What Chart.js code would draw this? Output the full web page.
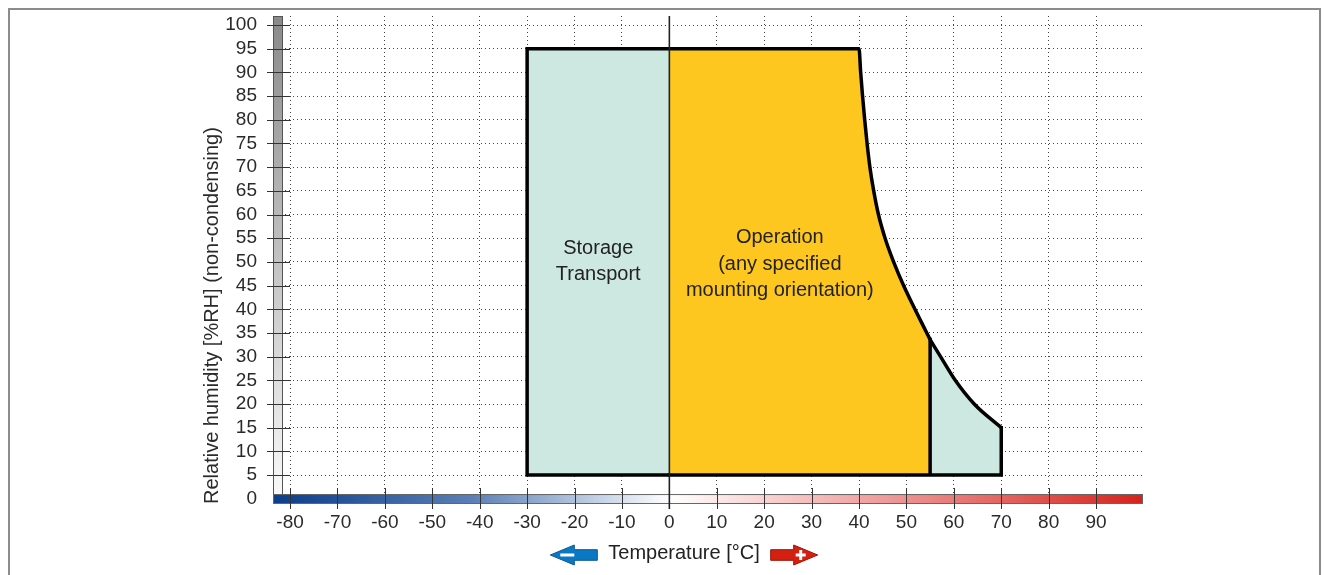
<!DOCTYPE html>
<html>
<head>
<meta charset="utf-8">
<script src="https://cdn.jsdelivr.net/npm/chart.js@4.4.1/dist/chart.umd.min.js"></script>
<style>
    body { margin: 0; background: #fff; }
    .frame { position: absolute; left: 8px; top: 8px; width: 1309px; height: 580px; border: 2px solid #8c8c8c; }
    #humidityChart { position: absolute; left: 0; top: 0; }
</style>
</head>
<body>
<div class="frame"></div>
<canvas id="humidityChart" width="1327" height="575"></canvas>
<script>
// tick labels
const xTicks = [-80, -70, -60, -50, -40, -30, -20, -10, 0, 10, 20, 30, 40, 50, 60, 70, 80, 90];
const yTicks = [0, 5, 10, 15, 20, 25, 30, 35, 40, 45, 50, 55, 60, 65, 70, 75, 80, 85, 90, 95, 100];

// storage / transport (left block)
const storageT  = [0, -30, -30, 0];
const storageRH = [5, 5, 95, 95];

// operation: upper limit (filled down to 5 %RH)
const operationT  = [0, 40, 40.35, 40.75, 41.2, 41.7, 42.3, 43.1, 44.1, 45.5, 47.3, 49.4, 51.8, 54.3, 55];
const operationRH = [95, 95, 90, 85, 80, 75, 70, 65, 60, 55, 50, 45, 40, 35, 33.6];

// storage / transport above 55 °C: upper limit (filled down to 5 %RH)
const extendedT  = [55, 57.2, 60.3, 64.3, 70];
const extendedRH = [33.6, 30, 25, 20, 15];

// remaining outline: bottom edge, right edge, 55 °C divider
const outlineT  = [0, 70, 70, 70, 55, 55];
const outlineRH = [5, 5, 15, null, 5, 33.6];

const toPoints = (xs, ys) => xs.map((x, i) => ({ x: x, y: ys[i] }));

const FONT = '"Liberation Sans", Arial, sans-serif';
const TEAL = '#cde8e0';
const YELLOW = '#fdc71f';

// extra drawing: scale bars, tick marks, zero line, region texts, temperature label
const decorations = {
    id: 'decorations',
    afterDatasetsDraw(chart) {
        const ctx = chart.ctx;
        const area = chart.chartArea;
        const xs = chart.scales.x;
        const ys = chart.scales.y;
        const barTop = ys.getPixelForValue(1);
        ctx.save();

        // gray humidity bar
        let g = ctx.createLinearGradient(0, area.top, 0, barTop);
        g.addColorStop(0, '#8a8a8a');
        g.addColorStop(1, '#f8f8f8');
        ctx.fillStyle = g;
        ctx.fillRect(area.left, area.top, 9, barTop - area.top);
        ctx.strokeStyle = '#555';
        ctx.lineWidth = 1;
        ctx.strokeRect(area.left + 0.5, area.top + 0.5, 9, barTop - area.top);

        // blue-white-red temperature bar
        g = ctx.createLinearGradient(area.left, 0, area.right, 0);
        const zero = (xs.getPixelForValue(0) - area.left) / (area.right - area.left);
        g.addColorStop(0, '#0b3d8b');
        g.addColorStop(zero * 0.5, '#5b7fb6');
        g.addColorStop(zero, '#ffffff');
        g.addColorStop(zero + (1 - zero) * 0.45, '#ef9c9b');
        g.addColorStop(1, '#d6231b');
        ctx.fillStyle = g;
        ctx.fillRect(area.left, barTop, area.right - area.left, area.bottom - barTop);
        ctx.strokeStyle = '#666';
        ctx.strokeRect(area.left + 0.5, barTop + 0.5, area.right - area.left - 1, area.bottom - barTop - 1);

        // tick marks
        ctx.strokeStyle = '#333';
        ctx.lineWidth = 1;
        ctx.beginPath();
        yTicks.slice(1).forEach(v => {
            const py = Math.round(ys.getPixelForValue(v)) + 0.5;
            ctx.moveTo(area.left - 6, py);
            ctx.lineTo(area.left + 17, py);
        });
        xTicks.forEach(v => {
            const px = Math.round(xs.getPixelForValue(v)) + 0.5;
            ctx.moveTo(px, barTop - 6);
            ctx.lineTo(px, area.bottom + 5);
        });
        ctx.stroke();

        // zero line
        const x0 = xs.getPixelForValue(0);
        ctx.strokeStyle = '#222';
        ctx.lineWidth = 1.6;
        ctx.beginPath();
        ctx.moveTo(x0, area.top);
        ctx.lineTo(x0, area.bottom + 5);
        ctx.stroke();

        // region texts
        ctx.fillStyle = '#222';
        ctx.font = '20px ' + FONT;
        ctx.textAlign = 'center';
        ctx.textBaseline = 'middle';
        const sx = xs.getPixelForValue(-15), sy = ys.getPixelForValue(50);
        ctx.fillText('Storage', sx, sy - 13);
        ctx.fillText('Transport', sx, sy + 13);
        const ox = xs.getPixelForValue(23.3), oy = ys.getPixelForValue(49.5);
        ctx.fillText('Operation', ox, oy - 26.5);
        ctx.fillText('(any specified', ox, oy);
        ctx.fillText('mounting orientation)', ox, oy + 26.5);

        // temperature label with arrows
        const label = 'Temperature [°C]';
        const cx = 684, cy = 553;
        ctx.fillText(label, cx, cy);
        const w = ctx.measureText(label).width;
        drawArrow(ctx, cx - w / 2 - 11, cy + 2, -1, '#0a78c2', '#0a5a94');
        drawArrow(ctx, cx + w / 2 + 11, cy + 2, 1, '#d42010', '#9a1508');

        ctx.restore();
    }
};

function drawArrow(ctx, x, y, dir, fill, edge) {
    // x is the tail end, dir = -1 points left, 1 points right
    const len = 47, head = 24, hh = 10, bh = 5.3;
    const tip = x + dir * len, base = x + dir * (len - head);
    ctx.beginPath();
    ctx.moveTo(x, y - bh);
    ctx.lineTo(base, y - bh);
    ctx.lineTo(base, y - hh);
    ctx.lineTo(tip, y);
    ctx.lineTo(base, y + hh);
    ctx.lineTo(base, y + bh);
    ctx.lineTo(x, y + bh);
    ctx.closePath();
    ctx.fillStyle = fill;
    ctx.fill();
    ctx.strokeStyle = edge;
    ctx.lineWidth = 1;
    ctx.stroke();
    // white sign
    const c = x + dir * 30;
    ctx.fillStyle = '#fff';
    if (dir < 0) {
        ctx.fillRect(c - 7, y - 1.5, 14, 3);
    } else {
        ctx.fillRect(c - 5, y - 1.5, 10, 3);
        ctx.fillRect(c - 1.5, y - 5, 3, 10);
    }
}

const ctx = document.getElementById('humidityChart').getContext('2d');

const humidityChart = new Chart(ctx, {
    type: 'scatter',
    data: {
        datasets: [{
            label: 'Storage / Transport',
            data: toPoints(storageT, storageRH),
            order: 1,
            showLine: true,
            fill: 'shape',
            backgroundColor: TEAL,
            borderColor: '#000',
            borderWidth: 3.5,
            borderJoinStyle: 'miter',
            pointRadius: 0
        }, {
            label: 'Operation',
            data: toPoints(operationT, operationRH),
            order: 2,
            showLine: true,
            fill: { value: 5 },
            cubicInterpolationMode: 'monotone',
            backgroundColor: YELLOW,
            borderColor: '#000',
            borderWidth: 3.5,
            borderJoinStyle: 'miter',
            pointRadius: 0
        }, {
            label: 'Storage / Transport (high)',
            data: toPoints(extendedT, extendedRH),
            order: 3,
            showLine: true,
            fill: { value: 5 },
            cubicInterpolationMode: 'monotone',
            backgroundColor: TEAL,
            borderColor: '#000',
            borderWidth: 3.5,
            borderJoinStyle: 'miter',
            pointRadius: 0
        }, {
            label: 'Outline',
            data: toPoints(outlineT, outlineRH),
            order: 0,
            showLine: true,
            spanGaps: false,
            fill: false,
            borderColor: '#000',
            borderWidth: 3.5,
            borderJoinStyle: 'miter',
            borderCapStyle: 'square',
            pointRadius: 0
        }]
    },
    options: {
        responsive: false,
        animation: false,
        devicePixelRatio: 1,
        layout: { padding: { left: 0, top: 16, right: 184, bottom: 0 } },
        scales: {
            x: {
                type: 'linear',
                min: -83.6,
                max: 99.9,
                afterBuildTicks: scale => { scale.ticks = xTicks.map(v => ({ value: v })); },
                afterFit: scale => { scale.height = 71; scale.paddingLeft = 0; scale.paddingRight = 0; },
                grid: { color: '#444', drawTicks: false, tickLength: 0 },
                border: { display: false, dash: [1, 3] },
                ticks: {
                    autoSkip: false,
                    maxRotation: 0,
                    padding: 7,
                    color: '#2a2a2a',
                    font: { family: FONT, size: 19 }
                }
            },
            y: {
                type: 'linear',
                min: -1.1,
                max: 101.9,
                afterBuildTicks: scale => { scale.ticks = yTicks.map(v => ({ value: v })); },
                afterFit: scale => { scale.width = 273; scale.paddingTop = 0; scale.paddingBottom = 0; },
                grid: { color: '#444', drawTicks: false, tickLength: 0 },
                border: { display: false, dash: [1, 3] },
                ticks: {
                    autoSkip: false,
                    padding: 16,
                    color: '#2a2a2a',
                    font: { family: FONT, size: 19 }
                },
                title: {
                    display: true,
                    text: 'Relative humidity [%RH] (non-condensing)',
                    align: 'start',
                    color: '#2a2a2a',
                    font: { family: FONT, size: 20 },
                    padding: { top: 200 }
                }
            }
        },
        plugins: {
            legend: { display: false },
            tooltip: { enabled: false }
        }
    },
    plugins: [decorations]
});
</script>
</body>
</html>
